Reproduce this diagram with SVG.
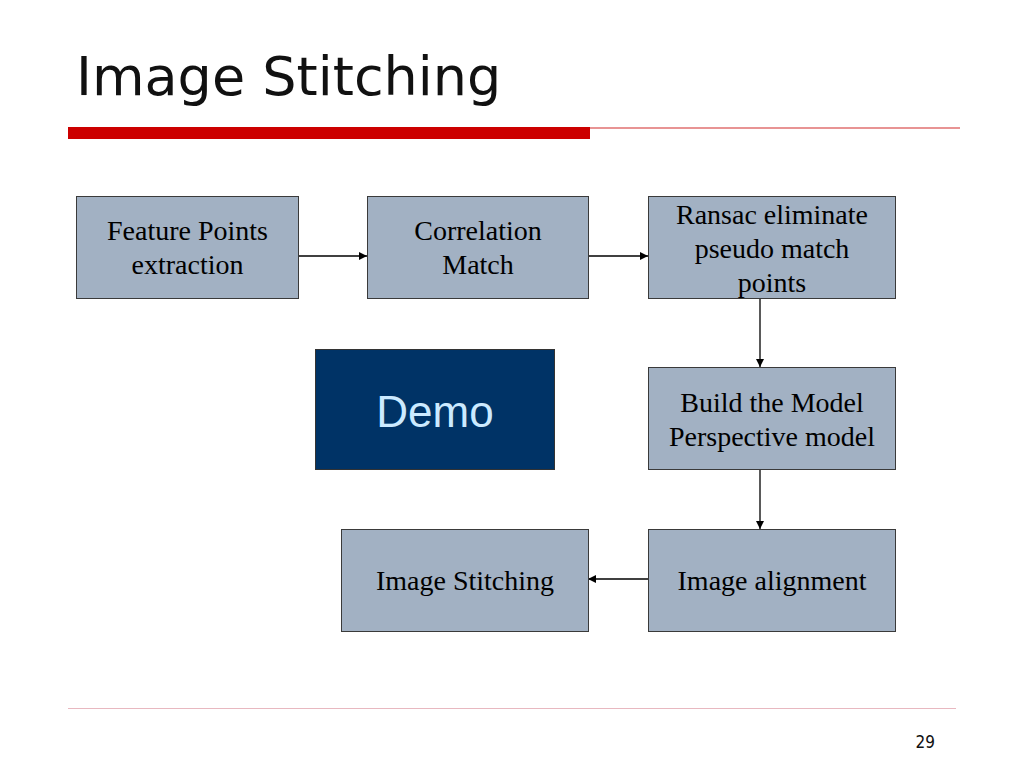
<svg xmlns="http://www.w3.org/2000/svg" width="1024" height="768" viewBox="0 0 1024 768">
<style>
.box{fill:#a2b1c3;stroke:#3a3a3a;stroke-width:1}
.t{font-family:"Liberation Serif","Times New Roman",serif;font-size:28px;fill:#000;text-anchor:middle}
.c{stroke:#000;stroke-width:1.3;fill:none;marker-end:url(#ah)}
</style>
<defs>
<marker id="ah" viewBox="0 0 10 10" refX="10" refY="5" markerWidth="8" markerHeight="8" markerUnits="userSpaceOnUse" orient="auto">
<path d="M0,0 L10,5 L0,10 z" fill="#000"/>
</marker>
</defs>
<rect width="1024" height="768" fill="#fff"/>
<text x="76" y="95" font-family="DejaVu Sans,Verdana,sans-serif" font-size="54" fill="#111">Image Stitching</text>
<rect x="68" y="127" width="522" height="12" fill="#cc0000"/>
<line x1="590" y1="128" x2="960" y2="128" stroke="#e07070" stroke-width="1.5"/>
<line x1="68" y1="708.5" x2="956" y2="708.5" stroke="#e8b8c0" stroke-width="1"/>
<text x="935" y="748" text-anchor="end" font-family="DejaVu Sans Condensed,DejaVu Sans,sans-serif" font-size="17" fill="#111">29</text>

<g id="connectors">
<line class="c" x1="298" y1="256" x2="367" y2="256"/>
<line class="c" x1="588" y1="256" x2="648" y2="256"/>
<line class="c" x1="760" y1="298" x2="760" y2="367"/>
<line class="c" x1="760" y1="469" x2="760" y2="529"/>
<line class="c" x1="648" y1="579" x2="588" y2="579"/>
</g>

<g id="n1">
<rect class="box" x="76.5" y="196.5" width="222" height="102"/>
<text class="t" x="187.5" y="240">Feature Points</text>
<text class="t" x="187.5" y="274">extraction</text>
</g>
<g id="n2">
<rect class="box" x="367.5" y="196.5" width="221" height="102"/>
<text class="t" x="478" y="240">Correlation</text>
<text class="t" x="478" y="274">Match</text>
</g>
<g id="n3">
<rect class="box" x="648.5" y="196.5" width="247" height="102"/>
<text class="t" x="772" y="224">Ransac eliminate</text>
<text class="t" x="772" y="258">pseudo match</text>
<text class="t" x="772" y="292">points</text>
</g>
<g id="demo">
<rect x="315.5" y="349.5" width="239" height="120" fill="#003366" stroke="#333" stroke-width="1"/>
<text x="435" y="427" text-anchor="middle" font-family="Liberation Sans,Arial,sans-serif" font-size="44" fill="#cceaff">Demo</text>
</g>
<g id="n4">
<rect class="box" x="648.5" y="367.5" width="247" height="102"/>
<text class="t" x="772" y="412">Build the Model</text>
<text class="t" x="772" y="446">Perspective model</text>
</g>
<g id="n5">
<rect class="box" x="648.5" y="529.5" width="247" height="102"/>
<text class="t" x="772" y="590">Image alignment</text>
</g>
<g id="n6">
<rect class="box" x="341.5" y="529.5" width="247" height="102"/>
<text class="t" x="465" y="590">Image Stitching</text>
</g>
</svg>
